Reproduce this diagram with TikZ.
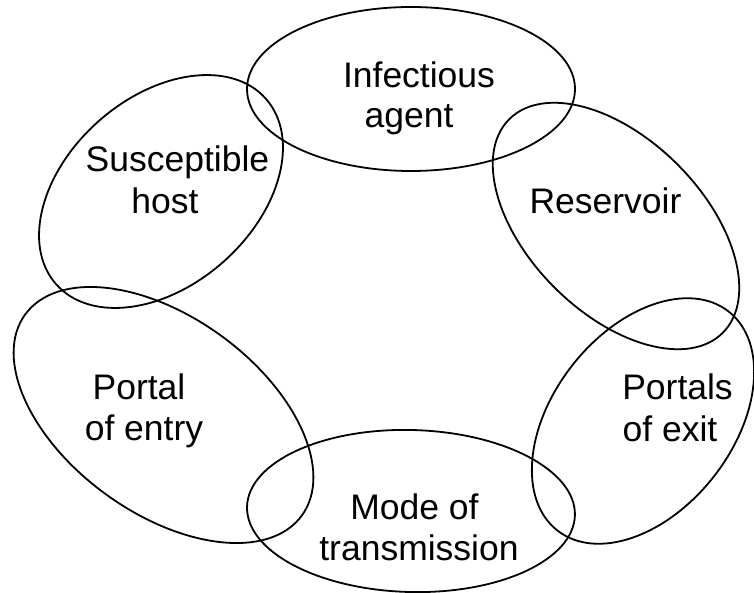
\documentclass[tikz,border=0pt]{standalone}
\usepackage{fontspec}
\setmainfont{Liberation Sans}
\begin{document}
\begin{tikzpicture}[x=1pt,y=1pt,
  ring/.style={draw=black,line width=1.8pt},
  lbl/.style={font=\fontsize{35.5}{41}\selectfont,inner sep=0pt,anchor=base,text=black}]
\useasboundingbox (0,0) rectangle (754,592);
% ellipse centres
\coordinate (cInf) at (411,503);
\coordinate (cRes) at (616,366);
\coordinate (cExit) at (643,171);
\coordinate (cMode) at (411,81);
\coordinate (cEntry) at (163.5,177);
\coordinate (cHost) at (161,400.5);
% ellipses
\draw[ring] (cInf) ellipse [x radius=164pt, y radius=82pt];
\draw[ring, rotate around={-45:(cRes)}] (cRes) ellipse [x radius=151pt, y radius=87pt];
\draw[ring, rotate around={52:(cExit)}] (cExit) ellipse [x radius=139pt, y radius=90pt];
\draw[ring, rotate around={-1.5:(cMode)}] (cMode) ellipse [x radius=164pt, y radius=81pt];
\draw[ring, rotate around={-36:(cEntry)}] (cEntry) ellipse [x radius=171pt, y radius=98pt];
\draw[ring, rotate around={41.5:(cHost)}] (cHost) ellipse [x radius=140pt, y radius=94pt];
% labels
\node[lbl] (inf1) at (419,504) {Infectious};
\node[lbl] (inf2) at (409,464) {agent};
\node[lbl] (res1) at (605.5,378) {Reservoir};
\node[lbl] (host1) at (177.5,420) {Susceptible};
\node[lbl] (host2) at (165,378) {host};
\node[lbl] (ent1) at (139,192.7) {Portal};
\node[lbl] (ent2) at (144,151.3) {of entry};
\node[lbl] (ext1) at (677.5,192.7) {Portals};
\node[lbl] (ext2) at (670,150.3) {of exit};
\node[lbl] (mode1) at (414.5,72.7) {Mode of};
\node[lbl] (mode2) at (419,32) {transmission};
\end{tikzpicture}
\end{document}
